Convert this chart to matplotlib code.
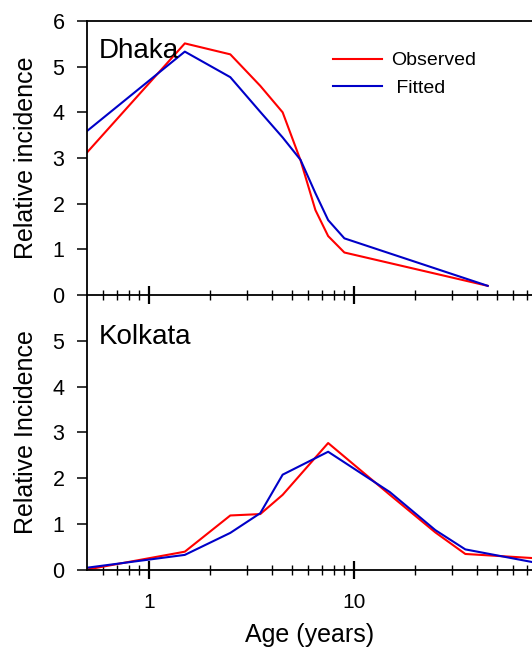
import matplotlib
matplotlib.use('Agg')
import matplotlib.pyplot as plt
from matplotlib.ticker import FixedLocator, NullFormatter, FixedFormatter

plt.rcParams['font.family'] = ['Liberation Sans', 'DejaVu Sans']

# Dhaka
dhaka_age = [0.5, 1.5, 2.5, 3.5, 4.5, 5.5, 6.5, 7.5, 9, 45]
dhaka_obs = [3.12, 5.51, 5.27, 4.58, 4.0, 2.95, 1.86, 1.29, 0.93, 0.2]
dhaka_fit = [3.59, 5.33, 4.77, 4.01, 3.45, 2.96, 2.23, 1.64, 1.24, 0.2]

# Kolkata
kol_age = [0.5, 1.5, 2.5, 3.5, 4.5, 7.5, 15, 25, 35, 75]
kol_obs = [0.01, 0.40, 1.19, 1.22, 1.64, 2.77, 1.64, 0.82, 0.35, 0.26]
kol_fit = [0.05, 0.33, 0.81, 1.24, 2.08, 2.58, 1.70, 0.87, 0.45, 0.17]

major_x = [1, 10]
minor_x = [0.6, 0.7, 0.8, 0.9, 2, 3, 4, 5, 6, 7, 8, 9,
           20, 30, 40, 50, 60, 70]

RED = '#FF0000'
BLUE = '#0000C8'

fig = plt.figure(figsize=(5.32, 6.51), dpi=100)
ax1 = fig.add_axes([0.1635, 0.5469, 0.8365, 0.4208])
ax2 = fig.add_axes([0.1635, 0.1244, 0.8365, 0.4225])
# top panel drawn over the lower one so its bottom ticks cross both sides
ax1.set_zorder(2)
ax1.patch.set_alpha(0)

for ax in (ax1, ax2):
    ax.set_xscale('log')
    ax.set_xlim(0.5, 74)
    ax.set_ylim(0, 6)
    ax.spines['right'].set_visible(False)
    for s in ax.spines.values():
        s.set_linewidth(1.3)
    ax.xaxis.set_major_locator(FixedLocator(major_x))
    ax.xaxis.set_minor_locator(FixedLocator(minor_x))
    ax.xaxis.set_minor_formatter(NullFormatter())
    ax.tick_params(axis='x', which='major', direction='inout', length=13.5,
                   width=1.6, labelsize=15, pad=10)
    ax.tick_params(axis='x', which='minor', direction='inout', length=7,
                   width=1.0)
    ax.tick_params(axis='y', direction='out', length=7.2, width=1.1,
                   labelsize=15.5, pad=9)

ax2.spines['top'].set_visible(False)
ax1.tick_params(axis='x', which='both', labelbottom=False)
ax2.xaxis.set_major_formatter(FixedFormatter(['1', '10']))

ax1.set_yticks([0, 1, 2, 3, 4, 5, 6])
ax2.set_yticks([0, 1, 2, 3, 4, 5])

ax1.plot(dhaka_age, dhaka_obs, color=RED, lw=1.5, label='Observed')
ax1.plot(dhaka_age, dhaka_fit, color=BLUE, lw=1.5, label=' Fitted')
ax2.plot(kol_age, kol_obs, color=RED, lw=1.5)
ax2.plot(kol_age, kol_fit, color=BLUE, lw=1.5)

ax1.text(0.027, 5.2, 'Dhaka', fontsize=20, transform=ax1.get_yaxis_transform(),
         va='baseline', ha='left')
ax2.text(0.027, 4.93, 'Kolkata', fontsize=20, transform=ax2.get_yaxis_transform(),
         va='baseline', ha='left')

ax1.legend(loc='upper left', bbox_to_anchor=(0.553, 0.888), frameon=False,
           fontsize=14, handlelength=2.5, handletextpad=0.5,
           labelspacing=0.5, borderpad=0, borderaxespad=0)

ax1.set_ylabel('Relative incidence', fontsize=18)
ax2.set_ylabel('Relative Incidence', fontsize=18)
ax1.yaxis.set_label_coords(-0.11, 0.5)
ax2.yaxis.set_label_coords(-0.11, 0.5)
ax2.set_xlabel('Age (years)', fontsize=18)
ax2.xaxis.set_label_coords(0.5, -0.192)

fig.savefig('out.png', dpi=100)
